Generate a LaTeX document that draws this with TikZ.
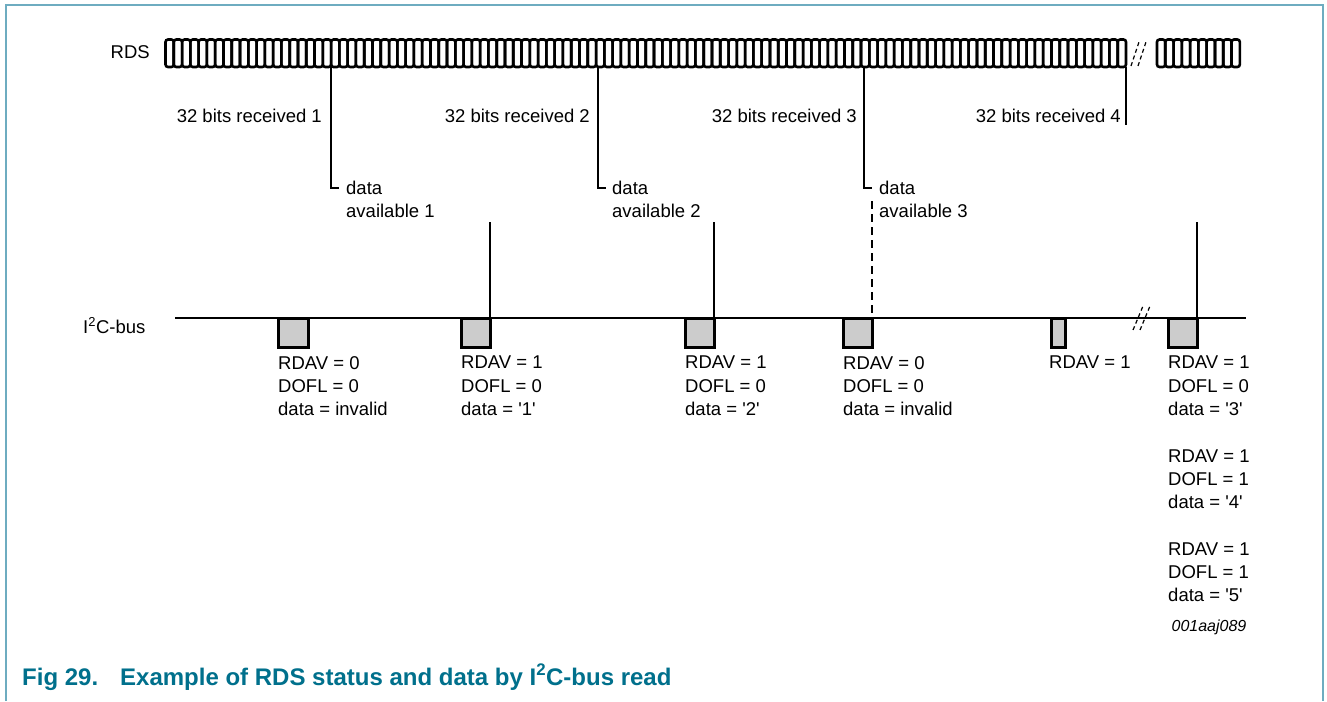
\documentclass[tikz,border=0pt]{standalone}
\usepackage{fontspec}
\setmainfont{Liberation Sans}
\definecolor{framec}{RGB}{110,172,192}
\definecolor{capc}{RGB}{0,112,140}
\definecolor{boxc}{RGB}{204,204,204}
\begin{document}
\begin{tikzpicture}[x=1pt,y=-1pt,
  lbl/.style={font=\fontsize{18.5}{23.3}\selectfont, inner sep=0pt},
  stat/.style={lbl, align=left, anchor=north west},
  thinln/.style={line width=1.2pt},
  cell/.style={draw, line width=2.6pt, rounded corners=2.5pt},
  slotbox/.style={draw, fill=boxc, line width=3pt},
  busln/.style={line width=2.4pt},
  brk/.style={line width=1.2pt, dash pattern=on 4pt off 3pt},
  capt/.style={font=\fontsize{24}{28}\selectfont\bfseries, text=capc, inner sep=0pt, anchor=base west}]
\useasboundingbox (0,0) rectangle (1327,701);
\fill[white] (0,0) rectangle (1327,701);
% frame
\draw[framec, line width=2pt] (5.5,701) -- (5.5,5) -- (1322.5,5) -- (1322.5,701);

% RDS bit train
\node[lbl, anchor=east] (rds) at (150,52) {RDS};
\foreach \i in {0,...,115}
  \draw[cell] ({165.5+\i*8.28},39.5) rectangle ({165.5+(\i+1)*8.28},67);
\foreach \i in {0,...,9}
  \draw[cell] ({1157+\i*8.28},39.5) rectangle ({1157+(\i+1)*8.28},67);
\coordinate (rb1a) at (1131,66); \coordinate (rb1b) at (1139,42);
\coordinate (rb2a) at (1138,66); \coordinate (rb2b) at (1146,42);
\draw[brk] (rb1a) -- (rb1b);
\draw[brk] (rb2a) -- (rb2b);

% 32 bits received labels
\node[lbl, anchor=east] (r1) at (322,116) {32 bits received 1};
\node[lbl, anchor=east] (r2) at (590,116) {32 bits received 2};
\node[lbl, anchor=east] (r3) at (857,116) {32 bits received 3};
\node[lbl, anchor=east] (r4) at (1121,116) {32 bits received 4};

% markers
\coordinate (m1t) at (331,67); \coordinate (m1b) at (331,188); \coordinate (m1e) at (339,188);
\coordinate (m2t) at (598,67); \coordinate (m2b) at (598,188); \coordinate (m2e) at (606,188);
\coordinate (m3t) at (864,67); \coordinate (m3b) at (864,188); \coordinate (m3e) at (872,188);
\coordinate (m4t) at (1126,67); \coordinate (m4b) at (1126,125);
\draw[thinln] (m1t) -- (m1b) -- (m1e);
\draw[thinln] (m2t) -- (m2b) -- (m2e);
\draw[thinln] (m3t) -- (m3b) -- (m3e);
\draw[thinln] (m4t) -- (m4b);

\node[stat] (d1) at (346,181) {data\\available 1};
\node[stat] (d2) at (612,181) {data\\available 2};
\node[stat] (d3) at (879,181) {data\\available 3};

% I2C bus
\node[lbl, anchor=base west] (i2c) at (83,333) {I\textsuperscript{2}C-bus};
\coordinate (busl) at (175,318); \coordinate (busr) at (1246,318);
\draw[busln] (busl) -- (busr);
\coordinate (bb1a) at (1133,330); \coordinate (bb1b) at (1143,306);
\coordinate (bb2a) at (1140,330); \coordinate (bb2b) at (1150,306);
\draw[brk] (bb1a) -- (bb1b);
\draw[brk] (bb2a) -- (bb2b);

% slots
\draw[slotbox] (278,318) rectangle (308,347);
\draw[slotbox] (461,318) rectangle (490,347);
\draw[slotbox] (685,318) rectangle (714,347);
\draw[slotbox] (843,318) rectangle (872,347);
\draw[slotbox] (1051,318) rectangle (1065,347);
\draw[slotbox] (1168,318) rectangle (1197,347);

% verticals to bus
\coordinate (v1t) at (490,222); \coordinate (v1b) at (490,318);
\coordinate (v2t) at (714,222); \coordinate (v2b) at (714,318);
\coordinate (v3t) at (872,201); \coordinate (v3b) at (872,318);
\coordinate (v4t) at (1197,222); \coordinate (v4b) at (1197,318);
\draw[thinln] (v1t) -- (v1b);
\draw[thinln] (v2t) -- (v2b);
\draw[thinln, dash pattern=on 8pt off 5pt] (v3t) -- (v3b);
\draw[thinln] (v4t) -- (v4b);

% status labels
\node[stat] (s1) at (278,356) {RDAV = 0\\DOFL = 0\\data = invalid};
\node[stat] (s2) at (461,356) {RDAV = 1\\DOFL = 0\\data = \textquotesingle 1\textquotesingle};
\node[stat] (s3) at (685,356) {RDAV = 1\\DOFL = 0\\data = \textquotesingle 2\textquotesingle};
\node[stat] (s4) at (843,356) {RDAV = 0\\DOFL = 0\\data = invalid};
\node[stat] (s5) at (1049,356) {RDAV = 1};
\node[stat] (s6) at (1168,356) {RDAV = 1\\DOFL = 0\\data = \textquotesingle 3\textquotesingle\\[23.3pt]RDAV = 1\\DOFL = 1\\data = \textquotesingle 4\textquotesingle\\[23.3pt]RDAV = 1\\DOFL = 1\\data = \textquotesingle 5\textquotesingle};

\node[font=\fontsize{16}{19}\selectfont\itshape, inner sep=0pt] (code) at (1209,627) {001aaj089};

% caption
\node[capt] (fig) at (22,685) {Fig 29.};
\node[capt] (figt) at (120,685) {Example of RDS status and data by I\textsuperscript{2}C-bus read};
\end{tikzpicture}
\end{document}
